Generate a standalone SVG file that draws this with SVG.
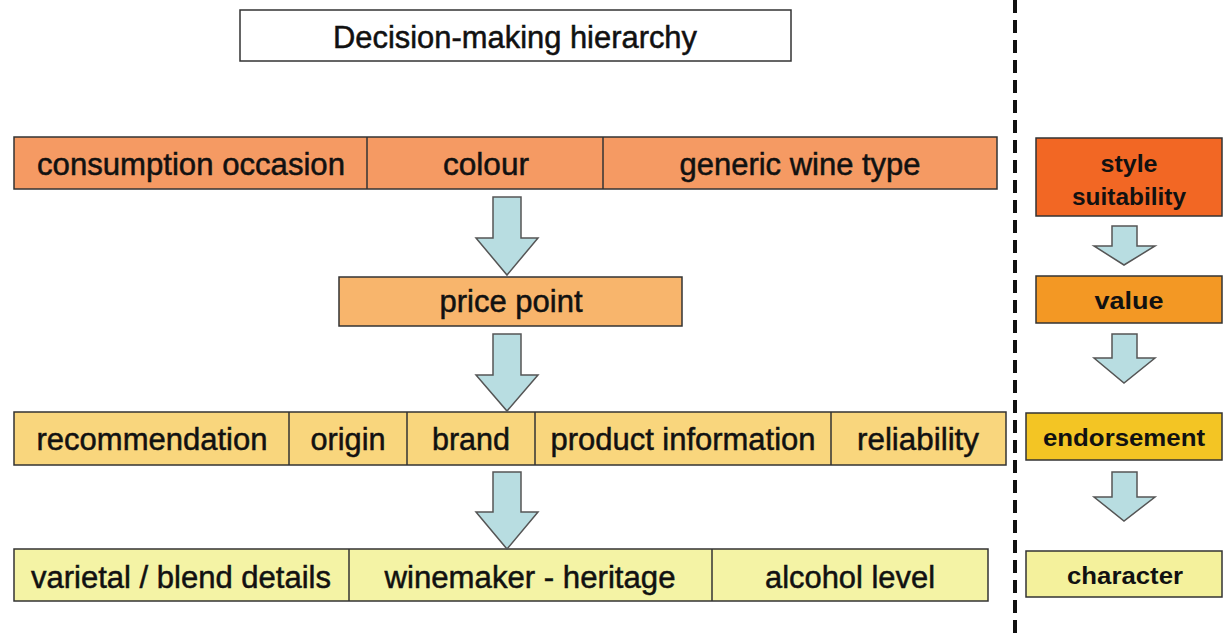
<svg xmlns="http://www.w3.org/2000/svg" width="1226" height="636" viewBox="0 0 1226 636">
<style>
.box{stroke:#333;stroke-width:1.5}
.t{font-family:"Liberation Sans",Arial,sans-serif;font-size:31px;fill:#111;stroke:#111;stroke-width:0.5;text-anchor:middle}
.r{font-family:"Liberation Sans",Arial,sans-serif;font-size:24px;font-weight:bold;fill:#111;text-anchor:middle}
.arr{fill:#B8DDE1;stroke:#555;stroke-width:1.5;stroke-linejoin:miter}
.div{stroke:#333;stroke-width:1.5}
</style>
<rect width="1226" height="636" fill="#fff"/>
<g id="title">
<rect x="240" y="10" width="551" height="51" fill="#fff" class="box"/>
<text class="t" x="515" y="48" textLength="364" lengthAdjust="spacingAndGlyphs">Decision-making hierarchy</text>
</g>
<g id="row1">
<rect x="14" y="137" width="983" height="52" fill="#F59A63" class="box"/>
<line class="div" x1="367" y1="137" x2="367" y2="189"/>
<line class="div" x1="603" y1="137" x2="603" y2="189"/>
<text class="t" x="191" y="175" textLength="308" lengthAdjust="spacingAndGlyphs">consumption occasion</text>
<text class="t" x="486" y="175" textLength="86" lengthAdjust="spacingAndGlyphs">colour</text>
<text class="t" x="800" y="175" textLength="241" lengthAdjust="spacingAndGlyphs">generic wine type</text>
</g>
<g id="price">
<rect x="339" y="277" width="343" height="49" fill="#F8B56C" class="box"/>
<text class="t" x="511" y="312" textLength="143" lengthAdjust="spacingAndGlyphs">price point</text>
</g>
<g id="row3">
<rect x="14" y="412" width="992" height="53" fill="#F9D67D" class="box"/>
<line class="div" x1="289" y1="412" x2="289" y2="465"/>
<line class="div" x1="407" y1="412" x2="407" y2="465"/>
<line class="div" x1="535" y1="412" x2="535" y2="465"/>
<line class="div" x1="831" y1="412" x2="831" y2="465"/>
<text class="t" x="152" y="450" textLength="231" lengthAdjust="spacingAndGlyphs">recommendation</text>
<text class="t" x="348" y="450" textLength="75" lengthAdjust="spacingAndGlyphs">origin</text>
<text class="t" x="471" y="450" textLength="78" lengthAdjust="spacingAndGlyphs">brand</text>
<text class="t" x="683" y="450" textLength="265" lengthAdjust="spacingAndGlyphs">product information</text>
<text class="t" x="918" y="450" textLength="122" lengthAdjust="spacingAndGlyphs">reliability</text>
</g>
<g id="row4">
<rect x="14" y="549" width="974" height="52" fill="#F4F3A5" class="box"/>
<line class="div" x1="349" y1="549" x2="349" y2="601"/>
<line class="div" x1="712" y1="549" x2="712" y2="601"/>
<text class="t" x="181" y="588" textLength="300" lengthAdjust="spacingAndGlyphs">varietal / blend details</text>
<text class="t" x="530" y="588" textLength="291" lengthAdjust="spacingAndGlyphs">winemaker - heritage</text>
<text class="t" x="850" y="588" textLength="170" lengthAdjust="spacingAndGlyphs">alcohol level</text>
</g>
<g id="style-suitability">
<rect x="1036" y="138" width="186" height="78" fill="#F26724" class="box"/>
<text class="r" x="1129" y="172" textLength="57" lengthAdjust="spacingAndGlyphs">style</text>
<text class="r" x="1129" y="205" textLength="114" lengthAdjust="spacingAndGlyphs">suitability</text>
</g>
<g id="value">
<rect x="1036" y="276" width="186" height="47" fill="#F39824" class="box"/>
<text class="r" x="1129" y="309" textLength="69" lengthAdjust="spacingAndGlyphs">value</text>
</g>
<g id="endorsement">
<rect x="1026" y="413" width="196" height="47" fill="#F3C524" class="box"/>
<text class="r" x="1124" y="446" textLength="162" lengthAdjust="spacingAndGlyphs">endorsement</text>
</g>
<g id="character">
<rect x="1026" y="551" width="196" height="46" fill="#F4F19C" class="box"/>
<text class="r" x="1125" y="584" textLength="116" lengthAdjust="spacingAndGlyphs">character</text>
</g>
<g id="connectors">
<polygon class="arr" points="493,197 521,197 521,238 538,238 507,275 476,238 493,238"/>
<polygon class="arr" points="493,334 521,334 521,375 538,375 507,411 476,375 493,375"/>
<polygon class="arr" points="493,472 521,472 521,512 538,512 507,549 476,512 493,512"/>
<polygon class="arr" points="1112,226 1137,226 1137,246 1155,246 1124,265 1094,246 1112,246"/>
<polygon class="arr" points="1112,334 1137,334 1137,358 1155,358 1124,383 1094,358 1112,358"/>
<polygon class="arr" points="1112,472 1137,472 1137,497 1155,497 1124,521 1094,497 1112,497"/>
<line x1="1015" y1="0" x2="1015" y2="636" stroke="#111" stroke-width="4" stroke-dasharray="13 7"/>
</g>
</svg>
